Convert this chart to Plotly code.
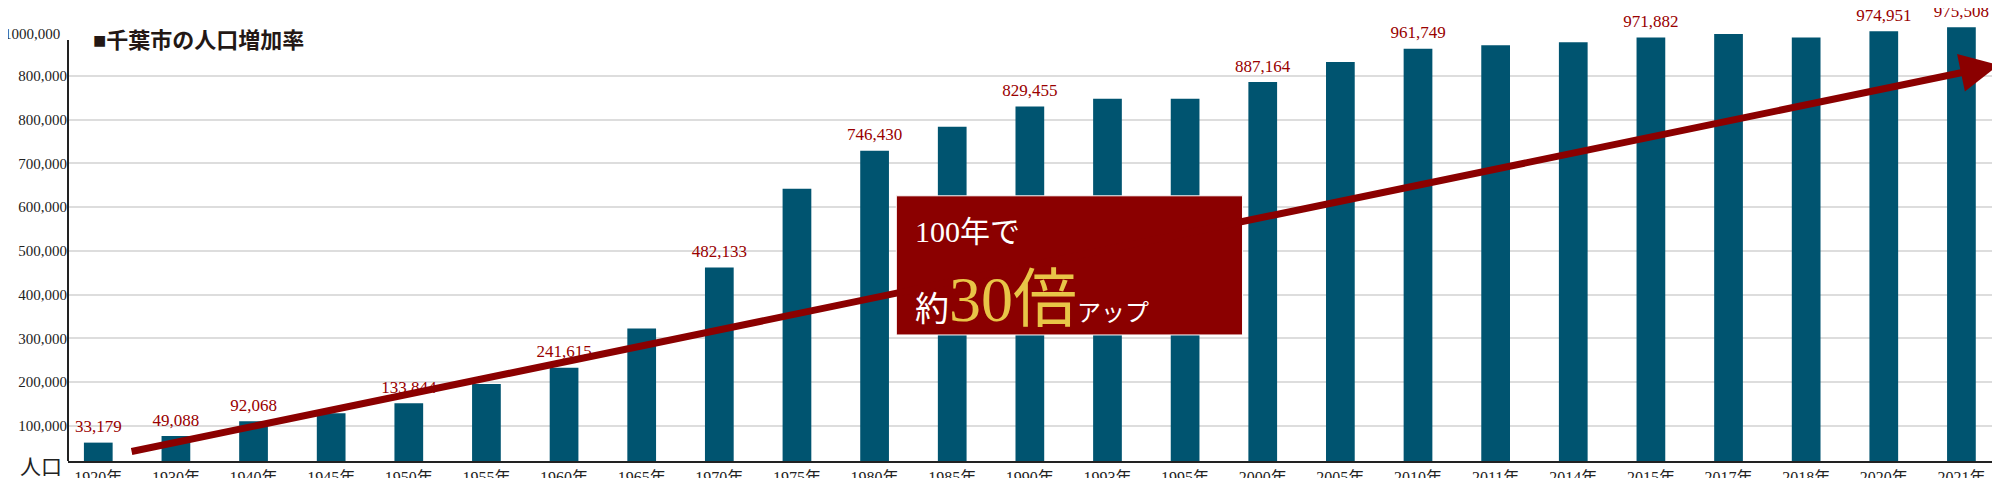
import plotly.graph_objects as go

years = ['1920年', '1930年', '1940年', '1945年', '1950年', '1955年', '1960年', '1965年', '1970年',
         '1975年', '1980年', '1985年', '1990年', '1993年', '1995年', '2000年', '2005年', '2010年',
         '2011年', '2014年', '2015年', '2017年', '2018年', '2020年', '2021年']
# bar heights as drawn in the picture
bar_height = [62000, 77000, 111000, 129000, 152000, 196000, 233000, 323000, 462000,
              642000, 729000, 784000, 830000, 848000, 848000, 886000, 932000, 962000,
              970000, 977000, 988000, 996000, 988000, 1002000, 1011000]
# printed population labels
labels = ['33,179', '49,088', '92,068', '', '133,844', '', '241,615', '', '482,133',
          '', '746,430', '', '829,455', '', '', '887,164', '', '961,749',
          '', '', '971,882', '', '', '974,951', '975,508']
tick_vals = [100000, 200000, 300000, 400000, 500000, 600000, 700000, 800000, 900000]
tick_text = ['100,000', '200,000', '300,000', '400,000', '500,000', '600,000', '700,000', '800,000', '800,000']

SERIF = 'Liberation Serif, Noto Sans CJK JP'
RED = '#990000'
xs = list(range(len(years)))

fig = go.Figure()
fig.add_trace(go.Bar(x=xs, y=bar_height, base=0, marker_color='#005470',
                     marker_line_width=0, hoverinfo='skip'))
fig.add_trace(go.Scatter(x=xs, y=[h + 14000 for h in bar_height], mode='text', text=labels,
                         textposition='top center', cliponaxis=False,
                         textfont=dict(family=SERIF, size=17, color=RED)))

fig.update_layout(
    width=2000, height=478, margin=dict(l=60, r=0, t=11, b=22),
    plot_bgcolor='white', paper_bgcolor='white', showlegend=False, bargap=0.63,
    xaxis=dict(range=[-0.39, 24.6], tickvals=xs, ticktext=years, ticklabelstandoff=1,
               tickfont=dict(family=SERIF, size=16, color='#222'), showgrid=False,
               showline=True, linecolor='#222', linewidth=2, ticks=''),
    yaxis=dict(range=[20000, 1030000], tickvals=tick_vals, ticktext=tick_text,
               tickfont=dict(family=SERIF, size=15, color='#222'), gridcolor='#dddddd',
               gridwidth=2, zeroline=False, ticks=''),
)

# y axis line (stops below the top)
fig.add_shape(type='line', xref='paper', yref='y', x0=0, x1=0, y0=20000, y1=982000,
              line=dict(color='#222', width=2))
fig.add_annotation(xref='paper', yref='y', x=0, y=995000, text='1000,000', showarrow=False,
                   xanchor='right', xshift=-6, font=dict(family=SERIF, size=15, color='#222'))
fig.add_annotation(xref='paper', yref='paper', x=0, y=0, text='人口', showarrow=False,
                   xanchor='right', yanchor='middle', xshift=-4, yshift=-6,
                   font=dict(family=SERIF, size=21, color='#222'))
fig.add_annotation(xref='paper', yref='paper', x=0.012, y=0.985, text='<b>■千葉市の人口増加率</b>',
                   showarrow=False, xanchor='left', yanchor='top',
                   font=dict(family=SERIF, size=22, color='#231815'))

# growth arrow
fig.add_annotation(x=24.48, y=925000, ax=0.41, ay=41000, xref='x', yref='y', axref='x', ayref='y',
                   text='', showarrow=True, arrowhead=2, arrowsize=1.1, arrowwidth=7,
                   arrowcolor='#8b0000')

# callout box
fig.add_shape(type='rect', xref='x', yref='y', x0=10.28, x1=14.74, y0=308000, y1=626000,
              fillcolor='#8b0000', line=dict(color='white', width=1))
fig.add_annotation(xref='x', yref='y', x=10.5, y=545000, text='100年で', showarrow=False,
                   xanchor='left', font=dict(family=SERIF, size=30, color='white'))
fig.add_annotation(xref='x', yref='y', x=10.5, y=390000,
                   text='約<span style="font-size:64px;color:#e8c547">30倍</span><span style="font-size:24px">アップ</span>',
                   showarrow=False, xanchor='left', font=dict(family=SERIF, size=34, color='white'))

fig.write_html('out.html')
